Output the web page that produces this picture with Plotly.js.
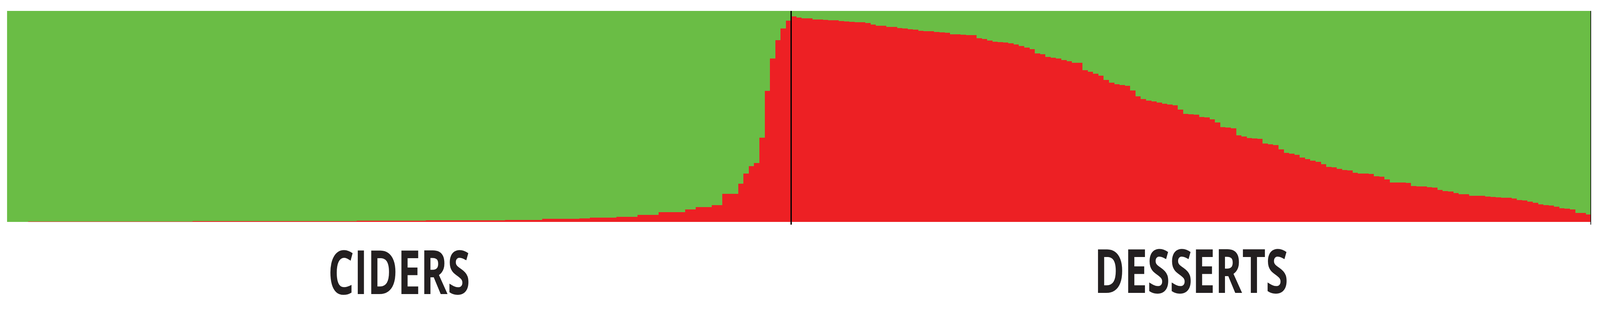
<!DOCTYPE html>
<html>
<head>
<meta charset="utf-8">
<script src="https://cdn.plot.ly/plotly-3.0.1.min.js"></script>
<style>
  html, body { margin: 0; padding: 0; background: #ffffff; overflow: hidden; }
  #plot { width: 6116px; height: 800px; transform-origin: 0 0; }
</style>
</head>
<body>
<div id="plot"></div>
<script>
// group names (labels under the bars)
const groups = ['CIDERS', 'DESSERTS'];

// red membership per individual, ciders sorted ascending
const ciderRed = [
  0.000, 0.000, 0.000, 0.000,
  0.001, 0.001, 0.001, 0.001, 0.001, 0.001, 0.001, 0.001, 0.001, 0.001, 0.001, 0.001, 0.001, 0.001, 0.001, 0.001,
  0.002, 0.002, 0.002, 0.002, 0.002, 0.002, 0.002, 0.002, 0.002, 0.002, 0.002, 0.002, 0.002, 0.002, 0.002,
  0.003, 0.003, 0.003, 0.003, 0.003, 0.003, 0.003, 0.003, 0.003, 0.003, 0.003, 0.003, 0.003, 0.003, 0.003, 0.003, 0.003, 0.003, 0.003, 0.003,
  0.004, 0.004, 0.004, 0.004, 0.004, 0.004, 0.004, 0.004, 0.004, 0.004, 0.004,
  0.005, 0.005, 0.005, 0.005, 0.005, 0.005, 0.005,
  0.006, 0.006, 0.006, 0.006, 0.006, 0.006,
  0.007, 0.007, 0.007, 0.007, 0.007, 0.007, 0.007, 0.007,
  0.008, 0.008, 0.008, 0.008, 0.008, 0.008, 0.008,
  0.009, 0.009, 0.009, 0.009, 0.009, 0.009, 0.009,
  0.014, 0.014, 0.014, 0.014, 0.014, 0.014, 0.014,
  0.016, 0.016,
  0.020, 0.020, 0.020, 0.020, 0.020,
  0.024, 0.024, 0.024, 0.024,
  0.033, 0.033, 0.033, 0.033,
  0.047, 0.047, 0.047, 0.047, 0.047,
  0.059, 0.059,
  0.070, 0.070, 0.070,
  0.080, 0.080,
  0.134, 0.134, 0.134,
  0.181, 0.229, 0.265, 0.280, 0.400, 0.621, 0.775, 0.862, 0.916, 0.954
];

// red membership per individual, desserts sorted descending
const dessertRed = [
  0.975, 0.968, 0.965, 0.964, 0.960, 0.959, 0.958, 0.956, 0.955, 0.952,
  0.951, 0.949, 0.947, 0.946, 0.942, 0.935, 0.930, 0.929, 0.925, 0.924,
  0.919, 0.916, 0.913, 0.912, 0.905, 0.904, 0.903, 0.901, 0.899, 0.897,
  0.889, 0.889, 0.887, 0.886, 0.885, 0.871, 0.866, 0.859, 0.854, 0.852,
  0.850, 0.846, 0.841, 0.834, 0.826, 0.818, 0.798, 0.795, 0.781, 0.778,
  0.774, 0.768, 0.762, 0.755, 0.754, 0.719, 0.712, 0.702, 0.694, 0.673,
  0.660, 0.652, 0.649, 0.646, 0.623, 0.595, 0.583, 0.575, 0.571, 0.566,
  0.561, 0.556, 0.553, 0.533, 0.512, 0.510, 0.509, 0.497, 0.495, 0.487,
  0.472, 0.449, 0.447, 0.444, 0.411, 0.404, 0.397, 0.396, 0.394, 0.371,
  0.368, 0.365, 0.344, 0.328, 0.323, 0.318, 0.305, 0.298, 0.291, 0.285,
  0.274, 0.260, 0.258, 0.252, 0.246, 0.244, 0.232, 0.230, 0.229, 0.228,
  0.217, 0.214, 0.201, 0.187, 0.187, 0.186, 0.185, 0.170, 0.169, 0.168,
  0.164, 0.162, 0.152, 0.146, 0.144, 0.136, 0.132, 0.131, 0.124, 0.123,
  0.123, 0.121, 0.119, 0.116, 0.115, 0.114, 0.111, 0.103, 0.101, 0.096,
  0.091, 0.084, 0.079, 0.078, 0.073, 0.064, 0.063, 0.060, 0.043, 0.042,
  0.036
];

const redColor = '#ed2024';
const greenColor = '#6abd45';
const textColor = '#231f20';

// the chart is laid out for 6116x800; the window may be smaller, so fit it
const baseW = 6116, baseH = 800;

function bars_create()
{
    var red = ciderRed.concat(dessertRed);
    // two clusters: green is the rest of each individual's membership
    var green = red.map(v => 1 - v);
    var x = red.map((v, i) => i);

    var redTrace = {
        type: 'bar', x: x, y: red,
        marker: {color: redColor, line: {width: 0}},
        hoverinfo: 'skip', showlegend: false,
    };
    var greenTrace = {
        type: 'bar', x: x, y: green,
        marker: {color: greenColor, line: {width: 0}},
        hoverinfo: 'skip', showlegend: false,
    };
    return [redTrace, greenTrace];
}

function layout_create()
{
    var nC = ciderRed.length;
    var nD = dessertRed.length;
    var n = nC + nD;

    var sep = {color: '#000000', width: 5};
    var shapes = [
        {type: 'line', xref: 'x', yref: 'paper', x0: nC - 0.5, x1: nC - 0.5, y0: -0.013, y1: 1, line: sep},
        {type: 'line', xref: 'x', yref: 'paper', x0: n - 0.5, x1: n - 0.5, y0: -0.013, y1: 1, line: sep},
    ];

    var labelFont = {family: '"Open Sans", sans-serif', size: 156, weight: 700, color: textColor};
    var annotations = [
        {text: groups[0], xref: 'x', yref: 'paper', x: (nC - 1) / 2, y: -0.032,
         xanchor: 'center', yanchor: 'top', borderpad: 0, showarrow: false, font: labelFont},
        {text: groups[1], xref: 'x', yref: 'paper', x: nC + (nD - 1) / 2, y: -0.026,
         xanchor: 'center', yanchor: 'top', borderpad: 0, showarrow: false, font: labelFont},
    ];

    return {
        width: baseW, height: baseH,
        margin: {l: 27, r: 34, t: 28, b: 231, pad: 0},
        barmode: 'stack', bargap: 0,
        paper_bgcolor: '#ffffff', plot_bgcolor: '#ffffff',
        xaxis: {range: [-0.5, n - 0.5], showticklabels: false, showgrid: false, zeroline: false, ticks: ''},
        yaxis: {range: [0, 1], showticklabels: false, showgrid: false, zeroline: false, ticks: ''},
        shapes: shapes,
        annotations: annotations,
        showlegend: false,
    };
}

var plot = document.getElementById('plot');
var sx = (window.innerWidth || baseW) / baseW;
var sy = (window.innerHeight || baseH) / baseH;
plot.style.transform = `scale(${sx}, ${sy})`;

Plotly.newPlot(plot, bars_create(), layout_create(), {staticPlot: true, displayModeBar: false});
</script>
</body>
</html>
